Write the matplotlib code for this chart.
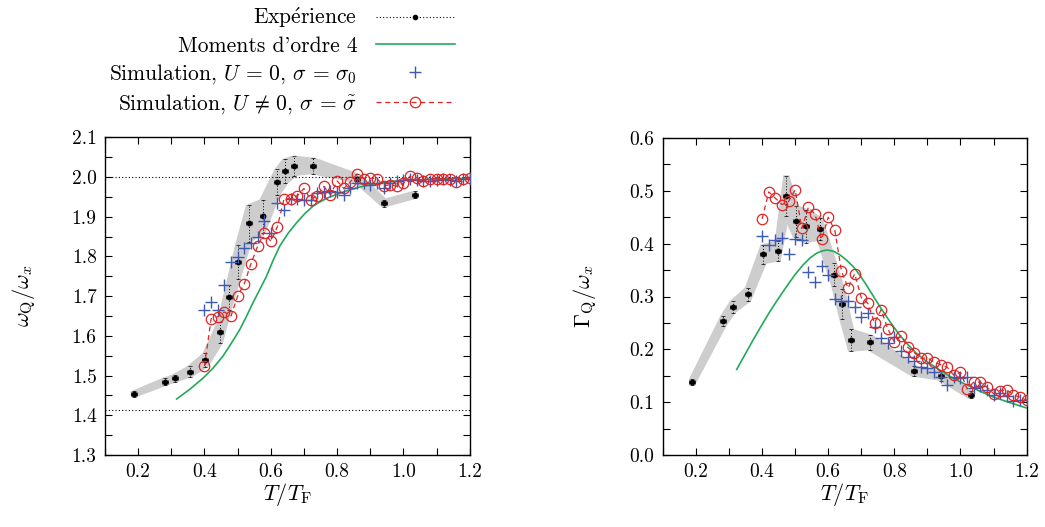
import matplotlib
matplotlib.use("Agg")
import matplotlib.pyplot as plt
from matplotlib.lines import Line2D
from matplotlib.ticker import MultipleLocator, FormatStrFormatter
import numpy as np

plt.rcParams['font.family'] = ['cmr10', 'DejaVu Serif']
plt.rcParams['mathtext.fontset'] = 'cm'
plt.rcParams['axes.formatter.use_mathtext'] = True

# --- Expérience (points noirs + barres d'erreur) ---
exp_T_w = [0.186, 0.282, 0.310, 0.356, 0.403, 0.447, 0.473, 0.501, 0.534,
           0.575, 0.620, 0.644, 0.671, 0.726, 0.861, 0.942, 1.034]
exp_w = [1.453, 1.485, 1.493, 1.510, 1.539, 1.609, 1.697, 1.786, 1.883,
         1.901, 1.987, 2.015, 2.028, 2.028, 1.996, 1.934, 1.955]
exp_dw = [0.007, 0.009, 0.009, 0.013, 0.017, 0.027, 0.032, 0.042, 0.046,
          0.042, 0.032, 0.030, 0.025, 0.020, 0.011, 0.009, 0.009]

exp_T_g = [0.188, 0.283, 0.311, 0.357, 0.404, 0.447, 0.473, 0.502, 0.534,
           0.574, 0.618, 0.642, 0.669, 0.726, 0.860, 0.942, 1.031]
exp_g = [0.138, 0.254, 0.280, 0.304, 0.380, 0.386, 0.491, 0.442, 0.433,
         0.428, 0.341, 0.286, 0.217, 0.213, 0.159, 0.150, 0.114]
exp_dg = [0.006, 0.010, 0.011, 0.013, 0.018, 0.019, 0.038, 0.030, 0.031,
          0.021, 0.022, 0.028, 0.021, 0.014, 0.010, 0.009, 0.007]
exp_dT = 0.009

# --- Moments d'ordre 4 ---
mom_T_w = [0.316, 0.355, 0.395, 0.425, 0.455, 0.480, 0.506, 0.526, 0.546,
           0.567, 0.587, 0.607, 0.627, 0.652, 0.678, 0.703, 0.728, 0.754,
           0.779, 0.829, 0.870, 0.910, 0.950, 0.991, 1.050, 1.100, 1.200]
mom_w = [1.441, 1.465, 1.493, 1.518, 1.548, 1.580, 1.615, 1.648, 1.683,
         1.717, 1.750, 1.790, 1.826, 1.858, 1.885, 1.908, 1.927, 1.940,
         1.950, 1.965, 1.975, 1.982, 1.987, 1.991, 1.993, 1.995, 1.997]

mom_T_g = [0.323, 0.348, 0.373, 0.398, 0.424, 0.449, 0.474, 0.499, 0.524,
           0.545, 0.565, 0.580, 0.595, 0.615, 0.635, 0.655, 0.675, 0.695,
           0.715, 0.735, 0.756, 0.786, 0.816, 0.841, 0.866, 0.900, 0.937,
           0.975, 1.018, 1.058, 1.098, 1.150, 1.200]
mom_g = [0.162, 0.190, 0.218, 0.245, 0.272, 0.296, 0.319, 0.341, 0.360,
         0.373, 0.382, 0.386, 0.388, 0.386, 0.379, 0.369, 0.357, 0.341,
         0.322, 0.302, 0.281, 0.253, 0.227, 0.209, 0.193, 0.176, 0.161,
         0.146, 0.133, 0.121, 0.110, 0.099, 0.089]

# --- Simulations (T de 0.40 à 1.20 par pas de 0.02) ---
sim_T = [0.40, 0.42, 0.44, 0.46, 0.48, 0.50, 0.52, 0.54, 0.56, 0.58, 0.60,
         0.62, 0.64, 0.66, 0.68, 0.70, 0.72, 0.74, 0.76, 0.78, 0.80, 0.82,
         0.84, 0.86, 0.88, 0.90, 0.92, 0.94, 0.96, 0.98, 1.00, 1.02, 1.04,
         1.06, 1.08, 1.10, 1.12, 1.14, 1.16, 1.18, 1.20]

sim0_w = [1.665, 1.686, 1.665, 1.727, 1.787, 1.799, 1.822, 1.833, 1.850, 1.890,
          1.859, 1.935, 1.918, 1.945, 1.945, 1.942, 1.941, 1.960, 1.962, 1.965,
          1.962, 1.955, 1.971, 1.986, 1.986, 1.979, 1.986, 1.971, 1.986, 1.990,
          1.992, 1.996, 1.992, 1.990, 1.990, 1.992, 1.994, 1.992, 1.990, 1.994,
          1.996]
simU_w = [1.524, 1.643, 1.648, 1.660, 1.650, 1.700, 1.731, 1.781, 1.825, 1.860,
          1.838, 1.875, 1.945, 1.945, 1.953, 1.971, 1.943, 1.953, 1.976, 1.955,
          1.990, 1.971, 1.988, 2.007, 1.996, 1.997, 1.996, 1.978, 1.980, 1.977,
          1.984, 2.002, 1.998, 1.991, 1.996, 1.996, 1.996, 1.996, 1.988, 1.996,
          1.998]

sim0_g = [0.414, 0.398, 0.407, 0.411, 0.381, 0.409, 0.407, 0.346, 0.327, 0.358,
          0.340, 0.296, 0.291, 0.291, 0.281, 0.261, 0.268, 0.243, 0.221, 0.212,
          0.224, 0.196, 0.186, 0.178, 0.167, 0.164, 0.158, 0.148, 0.133, 0.148,
          0.145, 0.148, 0.126, 0.130, 0.123, 0.114, 0.117, 0.111, 0.103, 0.105,
          0.104]
simU_g = [0.447, 0.498, 0.486, 0.474, 0.480, 0.502, 0.429, 0.469, 0.456, 0.408,
          0.450, 0.425, 0.348, 0.316, 0.343, 0.298, 0.287, 0.250, 0.275, 0.239,
          0.214, 0.226, 0.204, 0.194, 0.183, 0.184, 0.176, 0.171, 0.166, 0.151,
          0.157, 0.125, 0.138, 0.138, 0.128, 0.116, 0.122, 0.123, 0.114, 0.109,
          0.104]

RED = '#dc2626'
BLUE = '#3d5bb5'
GREEN = '#22aa5a'
GRAY = '#cdcdcd'
DOT = (0, (1, 2))


def hull(pts):
    pts = sorted(set(pts))
    def cross(o, a, b):
        return (a[0] - o[0]) * (b[1] - o[1]) - (a[1] - o[1]) * (b[0] - o[0])
    lower, upper = [], []
    for p in pts:
        while len(lower) >= 2 and cross(lower[-2], lower[-1], p) <= 0:
            lower.pop()
        lower.append(p)
    for p in reversed(pts):
        while len(upper) >= 2 and cross(upper[-2], upper[-1], p) <= 0:
            upper.pop()
        upper.append(p)
    return lower[:-1] + upper[:-1]


def band(ax, x, y, dx, dy):
    # union of the hulls of consecutive error boxes
    for i in range(len(x) - 1):
        pts = []
        for j in (i, i + 1):
            for sx in (-1, 1):
                for sy in (-1, 1):
                    pts.append((x[j] + sx * dx, y[j] + sy * dy[j]))
        h = hull(pts)
        ax.fill([p[0] for p in h], [p[1] for p in h], color=GRAY, lw=0, zorder=1)


def panel(ax, eT, ey, edy, mT, my, s0, sU):
    band(ax, eT, ey, exp_dT, edy)
    eb = ax.errorbar(eT, ey, xerr=exp_dT, yerr=edy, fmt='o', ms=3.2, color='k',
                     ecolor='k', elinewidth=0.7, capsize=1.2, capthick=0.5, zorder=3)
    for c in eb[2]:
        c.set_linestyle(DOT)
    ax.plot(mT, my, color=GREEN, lw=1.2, zorder=4)
    ax.plot(sim_T, s0, ls='none', marker='+', ms=8, mew=1.0, color=BLUE, zorder=5)
    ax.plot(sim_T, sU, ls=(0, (4, 3)), lw=0.9, marker='o', ms=7.5, mfc='none',
            mew=0.9, color=RED, zorder=6)
    ax.set_xlim(0.1, 1.2)
    ax.xaxis.set_major_locator(MultipleLocator(0.2))
    ax.xaxis.set_minor_locator(MultipleLocator(0.1))
    ax.xaxis.set_major_formatter(FormatStrFormatter('%.1f'))
    ax.yaxis.set_major_formatter(FormatStrFormatter('%.1f'))
    ax.yaxis.set_major_locator(MultipleLocator(0.1))
    ax.yaxis.set_minor_locator(MultipleLocator(0.05))
    ax.tick_params(which='both', direction='in', top=True, right=True,
                   length=5, width=0.8, labelsize=14, pad=6)
    ax.set_xlabel(r'$T/T_{\rm F}$', fontsize=16, labelpad=0)
    for s in ax.spines.values():
        s.set_linewidth(1.0)


fig = plt.figure(figsize=(10.45, 5.27), dpi=100)
ax1 = fig.add_axes([0.1005, 0.1366, 0.349, 0.603])
ax2 = fig.add_axes([0.6344, 0.1366, 0.348, 0.6015])

panel(ax1, exp_T_w, exp_w, exp_dw, mom_T_w, mom_w, sim0_w, simU_w)
ax1.axhline(2.0, color='k', lw=0.8, ls=DOT, zorder=2)
ax1.axhline(np.sqrt(2), color='k', lw=0.8, ls=DOT, zorder=2)
ax1.set_ylim(1.3, 2.1)
ax1.set_ylabel(r'$\omega_{\rm Q}/\omega_x$', fontsize=16, labelpad=24)

panel(ax2, exp_T_g, exp_g, exp_dg, mom_T_g, mom_g, sim0_g, simU_g)
ax2.set_ylim(0.0, 0.6)
ax2.set_ylabel(r'$\Gamma_{\rm Q}/\omega_x$', fontsize=16, labelpad=22)

handles = [
    Line2D([], [], color='k', ls=DOT, lw=0.8, marker='o', ms=3),
    Line2D([], [], color=GREEN, lw=1.2),
    Line2D([], [], color=BLUE, ls='none', marker='+', ms=8, mew=1.0),
    Line2D([], [], color=RED, ls=(0, (4, 3)), lw=0.9, marker='o', ms=7.5,
           mfc='none', mew=0.9),
]
labels = [
    r'Exp$\acute{\rm e}$rience',
    "Moments d'ordre 4",
    r'Simulation, $U\,=\,0$, $\sigma\,=\,\sigma_0$',
    r'Simulation, $U\,\neq\,0$, $\sigma\,=\,\tilde{\sigma}$',
]
fig.legend(handles, labels, loc='upper right', bbox_to_anchor=(0.448, 1.014),
           frameon=False, markerfirst=False, fontsize=15.5, handlelength=3.7,
           handletextpad=0.85, labelspacing=0.28, borderaxespad=0.2)

fig.savefig('out.png', dpi=100)
